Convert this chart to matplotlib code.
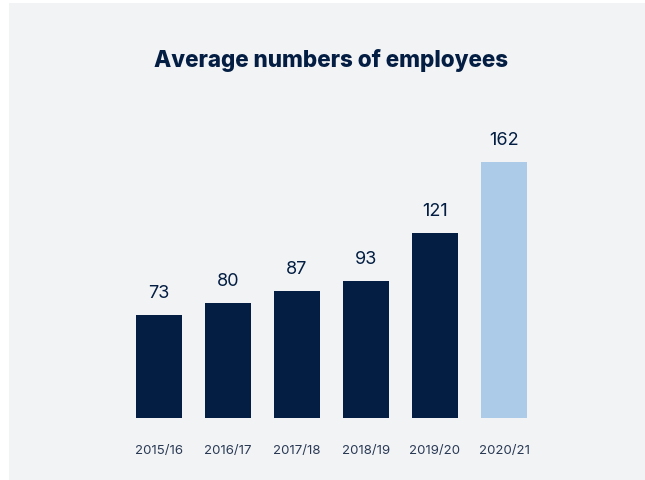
import matplotlib
matplotlib.use("Agg")
import matplotlib.pyplot as plt
from matplotlib.patches import Rectangle

years = ["2015/16", "2016/17", "2017/18", "2018/19", "2019/20", "2020/21"]
employees = [73, 80, 87, 93, 121, 162]

NAVY = "#031e42"
LIGHT = "#abcbe9"
BG = "#f2f3f5"
colors = [NAVY] * 5 + [LIGHT]

W, H = 645, 481
fig = plt.figure(figsize=(W / 100, H / 100), dpi=100)
fig.patch.set_facecolor("white")

# grey card behind everything
fig.patches.append(Rectangle((9 / W, 0), 1, 1 - 4 / H, transform=fig.transFigure,
                             facecolor=BG, edgecolor="none", zorder=-10))

ymin, ymax = 13.1, 175
px_per_unit = 1.719
ax_h = (ymax - ymin) * px_per_unit
ax = fig.add_axes([124.5 / W, 1 - 419 / H, 414 / W, ax_h / H])
ax.set_facecolor("none")
ax.set_zorder(5)

x = range(len(years))
bars = ax.bar(x, employees, width=0.667, color=colors, bottom=0)
ax.set_xlim(-0.5, 5.5)
ax.set_ylim(ymin, ymax)

for b, v in zip(bars, employees):
    ax.annotate(str(v), (b.get_x() + b.get_width() / 2, v), xytext=(0, 10),
                textcoords="offset points", ha="center", va="bottom",
                fontsize=13, color=NAVY, family="Inter")

ax.set_xticks(list(x))
ax.set_xticklabels(years, fontsize=9.5, color="#2a3a55", family="Inter")
ax.tick_params(axis="x", length=0, pad=19)
ax.set_yticks([])
for s in ax.spines.values():
    s.set_visible(False)

fig.text(331 / W, 1 - 67 / H, "Average numbers of employees", ha="center", va="baseline",
         fontsize=16.2, fontweight="heavy", color=NAVY, family="Inter")

fig.savefig("out.png", dpi=100, facecolor=fig.get_facecolor())
